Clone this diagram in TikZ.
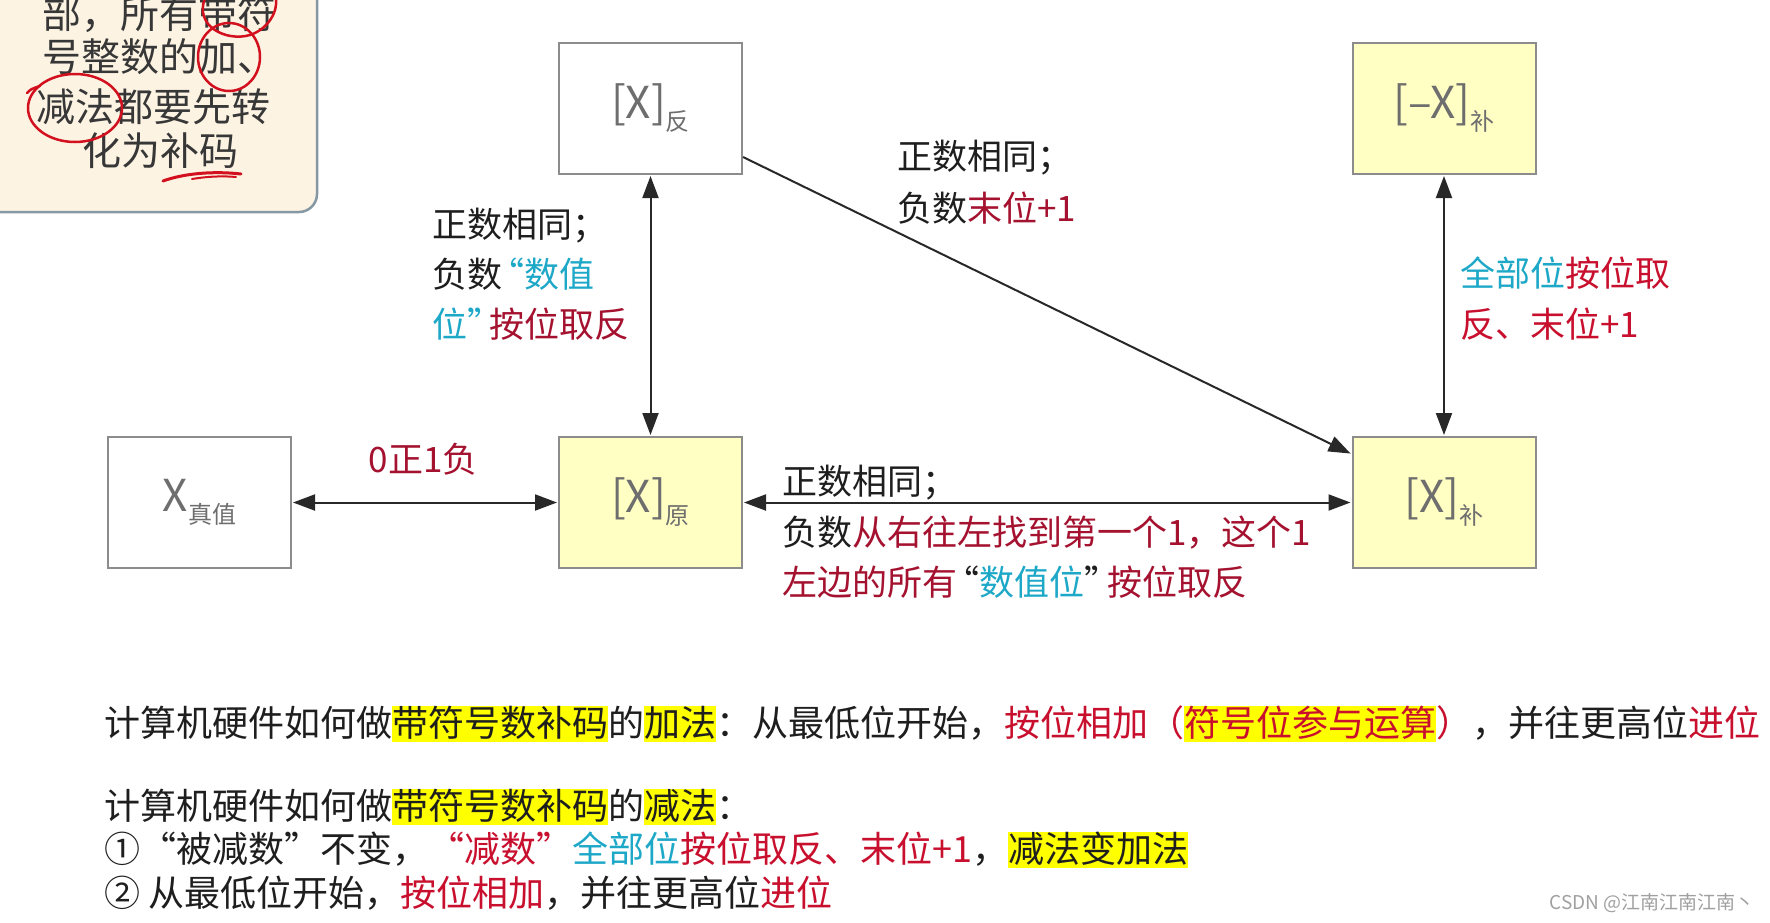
\documentclass[tikz,border=0pt]{standalone}
\usepackage{fontspec}
\setmainfont{Noto Sans CJK SC}
\usetikzlibrary{arrows.meta}
\definecolor{boxgray}{RGB}{140,140,140}
\definecolor{txtgray}{RGB}{110,110,110}
\definecolor{boxyellow}{RGB}{255,255,196}
\definecolor{arrowgray}{RGB}{40,40,40}
\definecolor{lblblack}{RGB}{30,30,30}
\definecolor{dred}{RGB}{165,18,48}
\definecolor{bred}{RGB}{200,16,46}
\definecolor{cyanc}{RGB}{30,168,200}
\definecolor{hlyellow}{RGB}{255,255,0}
\definecolor{cardfill}{RGB}{252,243,227}
\definecolor{cardedge}{RGB}{135,152,165}
\definecolor{cardtext}{RGB}{55,55,55}
\definecolor{penred}{RGB}{210,16,30}
\definecolor{wmgray}{RGB}{160,160,160}
\newcommand{\hlbox}[1]{{\setlength{\fboxsep}{0pt}\colorbox{hlyellow}{\rule[-0.16em]{0pt}{1.02em}#1}}}
\newcommand{\subtxt}[1]{\raisebox{-12pt}{\fontsize{24}{24}\selectfont #1}}
\newcommand{\oqt}{\kern-0.35em“}
\newcommand{\cqt}{”\kern-0.35em}
\tikzset{
  cbox/.style={draw=boxgray, line width=2pt, minimum width=183pt, minimum height=131pt,
    inner sep=0pt, font=\fontsize{44}{44}\selectfont, text=txtgray},
  ybox/.style={cbox, fill=boxyellow},
  wbox/.style={cbox, fill=white},
  lbl/.style={anchor=west, inner sep=0pt, text=lblblack, font=\fontsize{35}{35}\selectfont},
  btxt/.style={anchor=west, inner sep=0pt, text=lblblack, font=\fontsize{36}{36}\selectfont},
  ctxt/.style={anchor=west, inner sep=0pt, text=cardtext, font=\fontsize{39}{39}\selectfont},
  pen/.style={draw=penred, line width=2.5pt, line cap=round},
  conntwo/.style={draw=arrowgray, line width=2pt,
    {Triangle[length=22pt,width=16pt]}-{Triangle[length=22pt,width=16pt]},
    shorten <=1pt, shorten >=1pt},
  connone/.style={draw=arrowgray, line width=2pt,
    -{Triangle[length=22pt,width=16pt]}, shorten >=1pt},
}
\begin{document}
\begin{tikzpicture}[x=1pt,y=-1pt]
\useasboundingbox (0,0) rectangle (1770,922);
\fill[white] (0,0) rectangle (1770,922);

% note card (top left)
\draw[cardedge, line width=2pt] (3,-5) -- (3,176) .. controls (3,184) and (0,188) .. (-6,188);
\draw[cardedge, line width=2.5pt, fill=cardfill, rounded corners=18pt] (-30,-30) rectangle (317,212);
\node[ctxt] (c1) at (42,14) {部，所有带符};
\node[ctxt] (c2) at (42,57) {号整数的加、};
\node[ctxt] (c3) at (36,107) {减法都要先转};
\node[ctxt] (c4) at (82,151) {化为补码};
\draw[pen] (205,-2) .. controls (194,26) and (226,42) .. (250,35) .. controls (268,29) and (278,12) .. (276,-2);
\draw[pen] (229,57) ellipse [x radius=31, y radius=34];
\draw[pen] (75,108) ellipse [x radius=47, y radius=34];
\draw[pen] (27,93) .. controls (31,89) .. (40,86);
\draw[pen, line width=3pt] (163,181) .. controls (185,173) and (215,171) .. (241,174);
\draw[pen, line width=2pt] (192,179) .. controls (210,176) and (225,176) .. (236,177);

% boxes
\node[wbox] (fan) at (650.5,108.5) {[X]\subtxt{反}};
\node[ybox] (negbu) at (1444,108.5) {[–X]\subtxt{补}};
\node[wbox] (zhen) at (199.5,502.5) {X\subtxt{真值}};
\node[ybox] (yuan) at (650.5,502.5) {[X]\subtxt{原}};
\node[ybox] (bu) at (1444,502.5) {[X]\subtxt{补}};

% connectors
\draw[conntwo] (zhen.east) -- (yuan.west);
\draw[conntwo] (yuan.east) -- (bu.west);
\draw[conntwo] (fan.south) -- (yuan.north);
\draw[conntwo] (negbu.south) -- (bu.north);
\draw[connone] ([yshift=18pt]fan.south east) -- ([yshift=-18pt]bu.north west);

% labels
\node[lbl, anchor=center, text=dred] (lz) at (423,459) {0正1负};

\node[lbl] (la1) at (432,226) {正数相同；};
\node[lbl] (la2) at (432,274) {负数\textcolor{cyanc}{\oqt 数值}};
\node[lbl] (la3) at (432,324) {\textcolor{cyanc}{位\cqt}\textcolor{dred}{按位取反}};

\node[lbl] (lb1) at (897,158) {正数相同；};
\node[lbl] (lb2) at (897,208) {负数\textcolor{dred}{末位+1}};

\node[lbl] (lc1) at (1460,273) {\textcolor{cyanc}{全部位}\textcolor{bred}{按位取}};
\node[lbl] (lc2) at (1460,324) {\textcolor{bred}{反、末位+1}};

\node[lbl] (ld1) at (782,483) {正数相同；};
\node[lbl] (ld2) at (782,533) {负数\textcolor{dred}{从右往左找到第一个1，这个1}};
\node[lbl] (ld3) at (782,582) {\textcolor{dred}{左边的所有}\oqt\textcolor{cyanc}{数值位}\cqt\textcolor{dred}{按位取反}};

% bottom text
\node[btxt] (t1) at (104,724) {计算机硬件如何做\hlbox{带符号数补码}的\hlbox{加法}：从最低位开始，\textcolor{bred}{按位相加（\hlbox{符号位参与运算}）}，并往更高位\textcolor{bred}{进位}};
\node[btxt] (t2) at (104,807) {计算机硬件如何做\hlbox{带符号数补码}的\hlbox{减法}：};
\node[btxt] (t3) at (104,850) {①“被减数”不变，\textcolor{bred}{“减数”}\textcolor{cyanc}{全部位}\textcolor{bred}{按位取反、末位+1}，\hlbox{减法变加法}};
\node[btxt] (t4) at (104,893) {② 从最低位开始，\textcolor{bred}{按位相加}，并往更高位\textcolor{bred}{进位}};

\node[anchor=east, inner sep=0pt, text=wmgray, font=\fontsize{19}{19}\selectfont] (wm) at (1755,903) {CSDN @江南江南江南丶};
\end{tikzpicture}
\end{document}
